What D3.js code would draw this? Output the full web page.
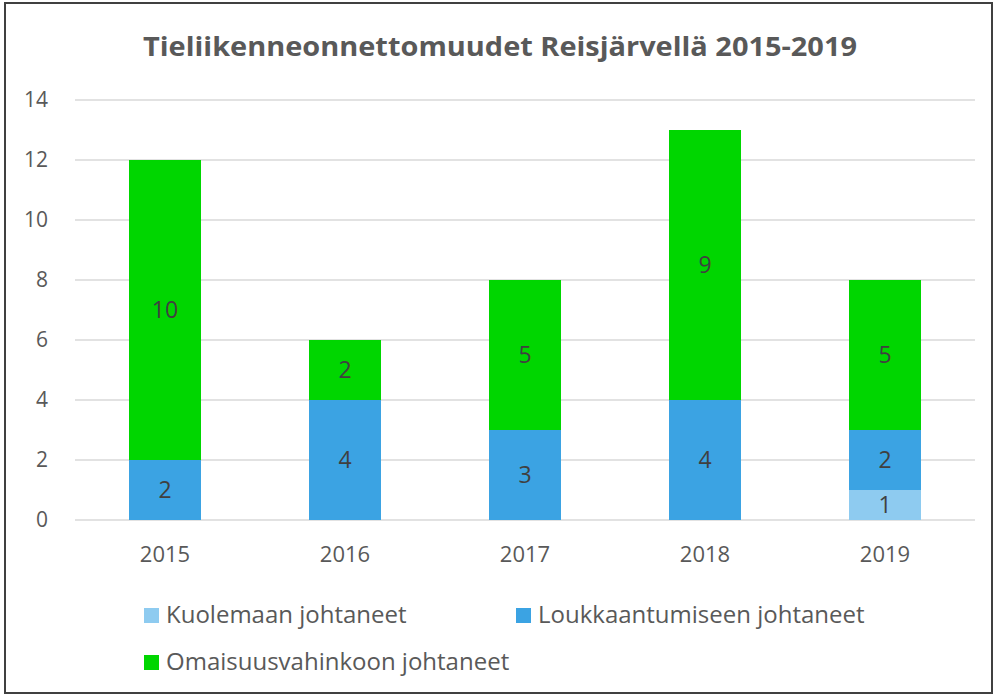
<!DOCTYPE html>
<html lang="fi">
<head>
<meta charset="UTF-8">
<title>Tieliikenneonnettomuudet Reisjärvellä 2015-2019</title>
<style>
  body { margin: 0; background: #fff; }
  text { font-family: "Open Sans", "Noto Sans", sans-serif; }
</style>
</head>
<body>
<script src="https://d3js.org/d3.v7.min.js"></script>
<script>
// data
var years = ["2015", "2016", "2017", "2018", "2019"];
var kuolemaan = [0, 0, 0, 0, 1];
var loukkaantumiseen = [2, 4, 3, 4, 2];
var omaisuusvahinko = [10, 2, 5, 9, 5];
var seriesNames = ["Kuolemaan johtaneet", "Loukkaantumiseen johtaneet", "Omaisuusvahinkoon johtaneet"];
var seriesColors = ["#8ecbf0", "#3ba3e3", "#00d600"];
var yTicks = [0, 2, 4, 6, 8, 10, 12, 14];

var W = 996, H = 695;
var margin = {top: 100, right: 21, bottom: 175, left: 75};
var width = W - margin.left - margin.right;
var height = H - margin.top - margin.bottom;

var svg = d3.select("body").append("svg")
    .attr("width", W)
    .attr("height", H);

// outer frame
svg.append("rect")
    .attr("x", 5).attr("y", 3)
    .attr("width", W - 9).attr("height", H - 5)
    .attr("fill", "#fff")
    .attr("stroke", "#404040")
    .attr("stroke-width", 2);

svg.append("text")
    .attr("x", 500).attr("y", 56)
    .attr("text-anchor", "middle")
    .attr("font-size", 27)
    .attr("font-weight", "bold")
    .attr("fill", "#595959")
    .attr("textLength", 714)
    .attr("lengthAdjust", "spacingAndGlyphs")
    .text("Tieliikenneonnettomuudet Reisjärvellä 2015-2019");

var g = svg.append("g")
    .attr("transform", "translate(" + margin.left + "," + margin.top + ")");

var x = d3.scaleBand()
    .domain(years)
    .range([0, width])
    .paddingInner(0.6)
    .paddingOuter(0.3);

var y = d3.scaleLinear()
    .domain([0, 14])
    .range([height, 0]);

// gridlines
g.append("g")
    .selectAll("line")
    .data(yTicks)
    .join("line")
    .attr("x1", 0).attr("x2", width)
    .attr("y1", d => y(d)).attr("y2", d => y(d))
    .attr("stroke", "#d9d9d9")
    .attr("stroke-width", 1.5);

// y axis labels
var yAxis = g.append("g")
    .call(d3.axisLeft(y).tickValues(yTicks).tickSize(0).tickPadding(27));
yAxis.select(".domain").remove();
yAxis.selectAll("text")
    .attr("font-size", 21)
    .attr("fill", "#595959")
    .style("font-family", "'Open Sans', sans-serif");

// x axis labels
var xAxis = g.append("g")
    .attr("transform", "translate(0," + height + ")")
    .call(d3.axisBottom(x).tickSize(0).tickPadding(26));
xAxis.select(".domain").remove();
xAxis.selectAll("text")
    .attr("font-size", 22)
    .attr("fill", "#595959")
    .style("font-family", "'Open Sans', sans-serif");

// stacked bars
var rows = years.map(function(yr, i) {
    return {year: yr, k: kuolemaan[i], l: loukkaantumiseen[i], o: omaisuusvahinko[i]};
});
var stack = d3.stack().keys(["k", "l", "o"]);
var layers = stack(rows);

var layer = g.selectAll(".layer")
    .data(layers)
    .join("g")
    .attr("class", "layer")
    .attr("fill", (d, i) => seriesColors[i]);

layer.selectAll("rect")
    .data(d => d.filter(s => s[1] - s[0] > 0))
    .join("rect")
    .attr("x", d => x(d.data.year))
    .attr("width", x.bandwidth())
    .attr("y", d => y(d[1]))
    .attr("height", d => y(d[0]) - y(d[1]));

layer.selectAll(".lbl")
    .data(d => d.filter(s => s[1] - s[0] > 0))
    .join("text")
    .attr("class", "lbl")
    .attr("x", d => x(d.data.year) + x.bandwidth() / 2)
    .attr("y", d => (y(d[0]) + y(d[1])) / 2)
    .attr("dy", "0.36em")
    .attr("text-anchor", "middle")
    .attr("font-size", 23)
    .attr("fill", "#404040")
    .text(d => d[1] - d[0]);

// legend
var legendPos = [[144, 615], [516, 615], [144, 662]];
var legend = svg.selectAll(".legend")
    .data(seriesNames)
    .join("g")
    .attr("class", "legend")
    .attr("transform", (d, i) => "translate(" + legendPos[i][0] + "," + legendPos[i][1] + ")");
legend.append("rect")
    .attr("x", 0).attr("y", -7)
    .attr("width", 15).attr("height", 15)
    .attr("fill", (d, i) => seriesColors[i]);
legend.append("text")
    .attr("x", 22)
    .attr("dy", "0.35em")
    .attr("font-size", 24)
    .attr("fill", "#595959")
    .text(d => d);
</script>
</body>
</html>
